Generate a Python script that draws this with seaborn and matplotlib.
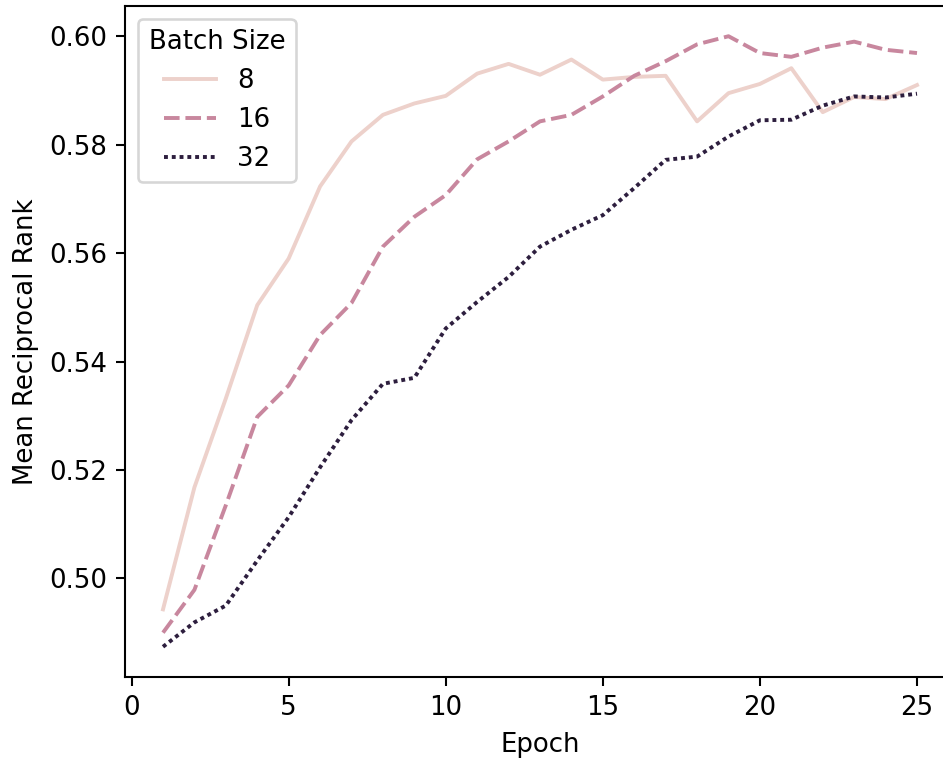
import matplotlib
matplotlib.use("Agg")
import matplotlib.pyplot as plt
import numpy as np
import pandas as pd
import seaborn as sns

# Validation MRR per epoch for three batch sizes
epochs = list(range(1, 26))
batch_sizes = [8, 16, 32]

mrr_bs8 = [0.4943, 0.5168, 0.5332, 0.5504, 0.5590, 0.5723, 0.5806, 0.5855,
           0.5876, 0.5890, 0.5931, 0.5949, 0.5929, 0.5957, 0.5920, 0.5925,
           0.5927, 0.5843, 0.5895, 0.5912, 0.5941, 0.5860, 0.5888, 0.5884,
           0.5910]
mrr_bs16 = [0.4900, 0.4979, 0.5135, 0.5298, 0.5356, 0.5449, 0.5508, 0.5612,
            0.5667, 0.5707, 0.5773, 0.5806, 0.5843, 0.5855, 0.5889, 0.5927,
            0.5954, 0.5985, 0.6000, 0.5969, 0.5962, 0.5979, 0.5990, 0.5975,
            0.5969]
mrr_bs32 = [0.4874, 0.4919, 0.4950, 0.5033, 0.5113, 0.5205, 0.5292, 0.5359,
            0.5370, 0.5461, 0.5510, 0.5556, 0.5612, 0.5643, 0.5670, 0.5720,
            0.5772, 0.5778, 0.5815, 0.5845, 0.5846, 0.5872, 0.5889, 0.5887,
            0.5894]

series = {8: mrr_bs8, 16: mrr_bs16, 32: mrr_bs32}
df = pd.DataFrame({
    "Epoch": np.tile(epochs, len(batch_sizes)),
    "Mean Reciprocal Rank": np.concatenate([series[b] for b in batch_sizes]),
    "Batch Size": np.repeat(batch_sizes, len(epochs)),
})

dpi = 187
fig = plt.figure(figsize=(943 / dpi, 758 / dpi), dpi=dpi)
ax = fig.add_axes([125.3 / 943, 1 - 677.3 / 758,
                   (954.7 - 125.3) / 943, (677.3 - 5.7) / 758])

sns.lineplot(data=df, x="Epoch", y="Mean Reciprocal Rank",
             hue="Batch Size", style="Batch Size", ax=ax)
ax.legend(title="Batch Size", loc="upper left")

fig.savefig("out.png", dpi=dpi)
